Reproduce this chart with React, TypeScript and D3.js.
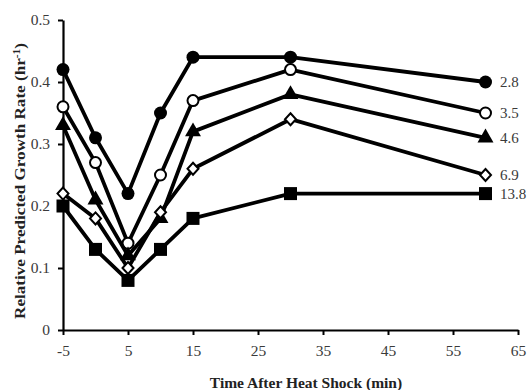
import { useRef, useEffect } from "react";
import * as d3 from "d3";

// time after heat shock (min)
const times = [-5, 0, 5, 10, 15, 30, 60];

// series labels (right-hand side) and values
const seriesLabels = ["2.8", "3.5", "4.6", "6.9", "13.8"];
const series28 = [0.42, 0.31, 0.22, 0.35, 0.44, 0.44, 0.4];
const series35 = [0.36, 0.27, 0.14, 0.25, 0.37, 0.42, 0.35];
const series46 = [0.33, 0.21, 0.12, 0.18, 0.32, 0.38, 0.31];
const series69 = [0.22, 0.18, 0.1, 0.19, 0.26, 0.34, 0.25];
const series138 = [0.2, 0.13, 0.08, 0.13, 0.18, 0.22, 0.22];

const xTicks = [-5, 5, 15, 25, 35, 45, 55, 65];
const yTicks = [0, 0.1, 0.2, 0.3, 0.4, 0.5];

const width = 527;
const height = 390;
const margin = { top: 20, right: 9, bottom: 60, left: 63 };

const App = () => {
  const svgRef = useRef<SVGSVGElement>(null);

  useEffect(() => {
    const svg = d3.select(svgRef.current);
    svg.selectAll("*").remove();

    const x = d3
      .scaleLinear()
      .domain([-5, 65])
      .range([margin.left, width - margin.right]);
    const y = d3
      .scaleLinear()
      .domain([0, 0.5])
      .range([height - margin.bottom, margin.top]);

    const font = "'Liberation Serif', 'Times New Roman', serif";
    const textCol = "#3a3a3a";

    // x axis
    const xAxis = svg
      .append("g")
      .attr("transform", `translate(0,${y(0)})`)
      .call(
        d3
          .axisBottom(x)
          .tickValues(xTicks)
          .tickSize(5)
          .tickSizeOuter(0)
          .tickFormat((d) => String(d))
      );
    xAxis.select(".domain").attr("stroke-width", 2.2);
    xAxis.selectAll(".tick line").attr("stroke-width", 2);
    xAxis
      .selectAll(".tick text")
      .attr("font-family", font)
      .attr("font-size", 15.5)
      .attr("fill", textCol)
      .attr("y", 15)
      .attr("dy", "0.71em");

    // y axis
    const yAxis = svg
      .append("g")
      .attr("transform", `translate(${x(-5)},0)`)
      .call(
        d3
          .axisLeft(y)
          .tickValues(yTicks)
          .tickSize(5)
          .tickSizeOuter(0)
          .tickFormat((d) => (d === 0 ? "0" : d3.format(".1f")(d as number)))
      );
    yAxis.select(".domain").attr("stroke-width", 2.2);
    yAxis.selectAll(".tick line").attr("stroke-width", 2);
    yAxis
      .selectAll(".tick text")
      .attr("font-family", font)
      .attr("font-size", 15.5)
      .attr("fill", textCol)
      .attr("x", -13);

    // axis titles
    svg
      .append("text")
      .attr("x", 306)
      .attr("y", 388)
      .attr("text-anchor", "middle")
      .attr("font-family", font)
      .attr("font-weight", "bold")
      .attr("font-size", 15.5)
      .attr("fill", "#222")
      .text("Time After Heat Shock (min)");

    const yTitle = svg
      .append("text")
      .attr("transform", `translate(25,181) rotate(-90)`)
      .attr("text-anchor", "middle")
      .attr("font-family", font)
      .attr("font-weight", "bold")
      .attr("font-size", 15)
      .attr("fill", "#222")
      .attr("textLength", 276)
      .attr("lengthAdjust", "spacingAndGlyphs");
    yTitle.append("tspan").text("Relative Predicted Growth Rate (hr");
    yTitle
      .append("tspan")
      .attr("font-size", 10)
      .attr("baseline-shift", "super")
      .text("-1");
    yTitle.append("tspan").text(")");

    const allSeries = [series28, series35, series46, series69, series138];
    const markers = ["circle", "circleOpen", "triangle", "diamondOpen", "square"];

    const line = d3
      .line<number>()
      .x((_, i) => x(times[i]))
      .y((d) => y(d));

    allSeries.forEach((vals, si) => {
      const g = svg.append("g");
      g.append("path")
        .datum(vals)
        .attr("d", line)
        .attr("fill", "none")
        .attr("stroke", "#000")
        .attr("stroke-width", 3.8)
        .attr("stroke-linejoin", "round");

      const kind = markers[si];
      const pts = g
        .selectAll("g.pt")
        .data(vals)
        .enter()
        .append("g")
        .attr("transform", (d, i) => `translate(${x(times[i])},${y(d)})`);

      if (kind === "circle" || kind === "circleOpen") {
        pts
          .append("circle")
          .attr("r", kind === "circle" ? 6.5 : 5.5)
          .attr("fill", kind === "circle" ? "#000" : "#fff")
          .attr("stroke", "#000")
          .attr("stroke-width", kind === "circle" ? 0 : 2);
      } else if (kind === "square") {
        pts
          .append("rect")
          .attr("x", -6.5)
          .attr("y", -6.5)
          .attr("width", 13)
          .attr("height", 13)
          .attr("fill", "#000");
      } else if (kind === "triangle") {
        pts
          .append("path")
          .attr("d", d3.symbol(d3.symbolTriangle, 110)())
          .attr("fill", "#000");
      } else {
        pts
          .append("path")
          .attr("d", "M0,-6L5.5,0L0,6L-5.5,0Z")
          .attr("fill", "#fff")
          .attr("stroke", "#000")
          .attr("stroke-width", 2);
      }

      // label at the end
      g.append("text")
        .attr("x", x(times[times.length - 1]) + 14.5)
        .attr("y", y(vals[vals.length - 1]))
        .attr("dy", "0.35em")
        .attr("font-family", font)
        .attr("font-size", 15)
        .attr("fill", textCol)
        .text(seriesLabels[si]);
    });
  }, []);

  return (
    <svg
      ref={svgRef}
      width={width}
      height={height}
      style={{ position: "absolute", left: 0, top: 0, background: "#fff" }}
    ></svg>
  );
};

export default App;
